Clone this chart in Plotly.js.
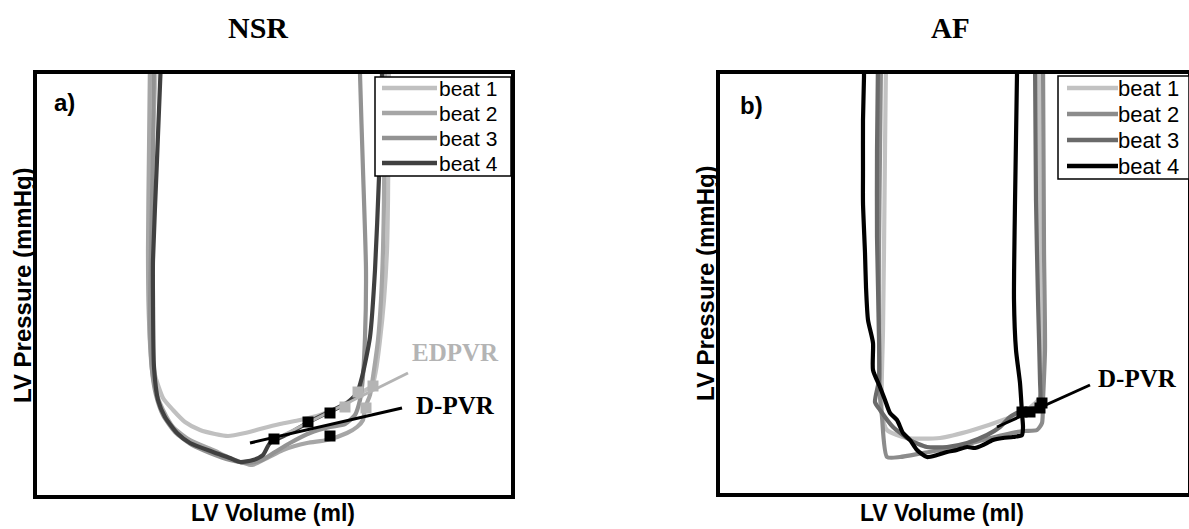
<!DOCTYPE html>
<html>
<head>
<meta charset="utf-8">
<script src="https://cdn.plot.ly/plotly-3.0.1.min.js"></script>
<style>html,body{margin:0;padding:0;background:#fff;}#chart{width:1189px;height:529px;}</style>
</head>
<body>
<div id="chart"></div>
<script>
// ---------- Panel a (NSR) : LV volume (ml) / LV pressure (mmHg) ----------
const beatNames = ["beat 1", "beat 2", "beat 3", "beat 4"];

const nsrBeat1Vol = [59.5,57.5,56,56,56.5,59,63,68,74,81.5,89,95.5,104,111.5,121.5,131.5,141.5,149,155.5,161.5,167.5,169.5,171.5,173.5,175,175.5,176];
const nsrBeat1Prs = [43.5,33.5,23.5,19.5,15.5,12,9.7,8.5,7.3,6.5,6.1,5.9,6.2,6.6,7.1,7.5,8.0,8.6,9.3,10.2,10.9,12.5,15.5,19.5,24.5,29.5,43.5];

const nsrBeat2Vol = [56.5,56,55.5,56,57.5,60,63,68,76.5,88,96.5,107.5,115,123,135,145,155,160,163,164,166.5,168.5,170.5,172,173,173.5,174];
const nsrBeat2Prs = [43.5,34.5,24.5,17.5,12.5,10,8.5,6.8,5.5,4.5,3.7,3.0,3.7,4.5,5.2,5.5,6.2,6.8,7.5,8.7,10,12.5,15.5,19.5,24.5,29.5,43.5];

const nsrBeat3Vol = [58.5,58,57,56.5,57.5,59.5,63,69,77.5,86.5,96.5,105.5,112.5,119,126.5,136.5,146.5,154,159,161.5,162.5,164,164.5,163,161.5,161.5];
const nsrBeat3Prs = [43.5,34.5,24.5,17.5,12.5,10,8,6.3,5,4.2,3.5,3.2,3.5,4.3,5.2,6.2,6.8,7.1,8,9.5,10.8,15.8,22.5,32.5,42.1,43.5];

const nsrBeat4Vol = [62,60,58,58,58.5,60.5,64,70,76.5,88,96.5,101.5,108,113,116.5,126.5,135,145,155,160,162.5,166.5,169,171,172.5,172.5];
const nsrBeat4Prs = [43.5,33.5,23.5,19.5,12.8,9.5,7.8,6.2,5.2,4.3,3.7,3.3,3.5,4.0,5.2,6.2,7.2,8.2,9.2,10.2,11.8,15.8,22.5,31.8,42.1,43.5];

const nsrDpvPtsVol = [118.5,135.5,146.5,146.5];
const nsrDpvPtsPrs = [5.6,7.3,8.2,5.9];
const nsrEdPtsVol = [160.5,168,154,164.5];
const nsrEdPtsPrs = [10.3,10.9,8.8,8.7];
const nsrEdpvrVol = [118,185.5];
const nsrEdpvrPrs = [5.5,12.2];
const nsrDpvrVol = [106.5,182.5];
const nsrDpvrPrs = [5.2,8.7];

// ---------- Panel b (AF) ----------
const afBeat1Vol = [83,82.5,82,81.5,81,83.5,93.5,110,126.5,141.5,153.5,160,160.5,160,159.5];
const afBeat1Prs = [43.3,34.3,24.3,16.3,8,6.3,5.5,5.5,6.3,7.3,8.3,9.6,14.3,24.3,43.3];

const afBeat2Vol = [80.5,80,79.5,79.5,80,81,83.5,90,101.5,118.5,131.5,141.5,151.5,158.5,161,161.5,162.5,162,161.5];
const afBeat2Prs = [43.3,34.3,24.3,16.3,9.6,7.6,3.6,3.6,4,4.6,5.3,5.8,6.2,6.3,7,9.3,14.3,24.3,43.3];

const afBeat3Vol = [79,78.5,78.5,79.5,79.5,77.5,80,86.5,95,103.5,113.5,123.5,133.5,140,145,151.5,157.5,160,160,159,158,157.5];
const afBeat3Prs = [43.3,34.3,25.6,15.6,11.3,9.1,8.3,6.6,5.3,4.6,4.6,5,5.8,6.6,7.6,8.3,8.5,8.9,11.3,19.3,29.3,43.3];

const afBeat4Vol = [72,72,71.5,71.5,71.5,72.5,73,74,76.5,76.5,80,82.5,85,88.5,91.5,95,98.5,103.5,108.5,113.5,118.5,123.5,127.5,131.5,136.5,141.5,146.5,151,151.5,151,150,148,147,147.5,148.5,148.5];
const afBeat4Prs = [43.3,41.6,37.3,32.3,29,24,20.6,17.3,15,12.3,10.6,9.3,8,7.3,6,5.3,4.3,3.6,3.8,4.1,4.3,4.6,4.5,4.8,5.3,5.5,5.6,5.8,6.6,8,11,14.3,19.3,29,41.9,43.3];

const afDpvPtsVol = [151,155,160,161];
const afDpvPtsPrs = [8.1,8.1,8.5,9];
const afDpvrVol = [138.5,185];
const afDpvrPrs = [6.6,10.8];

// ---------- styles ----------
const nsrColors = ["#c0c0c0", "#a6a6a6", "#939393", "#404040"];
const afColors = ["#c2c2c2", "#8c8c8c", "#6a6a6a", "#000000"];
const LW = 4.2;

function beat(x, y, name, color, xa, ya) {
  return {x: x, y: y, name: name, type: "scatter", mode: "lines", showlegend: false,
    line: {color: color, width: LW, shape: "spline", smoothing: 0.6},
    xaxis: xa, yaxis: ya, hoverinfo: "skip"};
}
function seg(x, y, color, w, xa, ya) {
  return {x: x, y: y, type: "scatter", mode: "lines", showlegend: false,
    line: {color: color, width: w}, xaxis: xa, yaxis: ya, hoverinfo: "skip"};
}
function pts(x, y, color, xa, ya) {
  return {x: x, y: y, type: "scatter", mode: "markers", showlegend: false,
    marker: {symbol: "square", size: 11, color: color}, xaxis: xa, yaxis: ya, hoverinfo: "skip"};
}

const nsrVols = [nsrBeat1Vol, nsrBeat2Vol, nsrBeat3Vol, nsrBeat4Vol];
const nsrPrss = [nsrBeat1Prs, nsrBeat2Prs, nsrBeat3Prs, nsrBeat4Prs];
const afVols = [afBeat1Vol, afBeat2Vol, afBeat3Vol, afBeat4Vol];
const afPrss = [afBeat1Prs, afBeat2Prs, afBeat3Prs, afBeat4Prs];

const data = [];
for (let i = 0; i < 4; i++) data.push(beat(nsrVols[i], nsrPrss[i], beatNames[i], nsrColors[i], "x", "y"));
data.push(seg(nsrEdpvrVol, nsrEdpvrPrs, "#b4b4b4", 3, "x", "y"));
data.push(seg(nsrDpvrVol, nsrDpvrPrs, "#000000", 3, "x", "y"));
data.push(pts(nsrEdPtsVol, nsrEdPtsPrs, "#b4b4b4", "x", "y"));
data.push(pts(nsrDpvPtsVol, nsrDpvPtsPrs, "#000000", "x", "y"));

for (let i = 0; i < 4; i++) data.push(beat(afVols[i], afPrss[i], beatNames[i], afColors[i], "x2", "y2"));
data.push(seg(afDpvrVol, afDpvrPrs, "#000000", 3, "x2", "y2"));
data.push(pts(afDpvPtsVol, afDpvPtsPrs, "#000000", "x2", "y2"));

const W = 1189, H = 529;
const axBase = {showline: true, mirror: true, linewidth: 3.8, linecolor: "#000",
  showgrid: false, zeroline: false, showticklabels: false, ticks: "", fixedrange: true};

const ann = (text, x, y, size, family, color, angle, anchor) => ({
  text: text, x: x / W, y: 1 - y / H, xref: "paper", yref: "paper",
  showarrow: false, xanchor: anchor || "center", yanchor: "middle", textangle: angle || 0,
  font: {size: size, family: family, color: color || "#000"}});
const SANS = "Liberation Sans, Arial, sans-serif";
const SERIF = "Liberation Serif, Times New Roman, serif";

const annotations = [
  ann("<b>NSR</b>", 258, 28, 30, SERIF),
  ann("<b>AF</b>", 950, 28, 29, SERIF),
  ann("<b>a)</b>", 64, 103, 24, SANS),
  ann("<b>b)</b>", 751, 105, 24, SANS),
  ann("<b>LV Volume (ml)</b>", 273, 513, 23, SANS),
  ann("<b>LV Volume (ml)</b>", 942, 513, 23, SANS),
  ann("<b>LV Pressure (mmHg)</b>", 22, 285, 24, SANS, "#000", -90),
  ann("<b>LV Pressure (mmHg)</b>", 705, 283, 24, SANS, "#000", -90),
  ann("<b>EDPVR</b>", 455, 352, 25, SERIF, "#b4b4b4"),
  ann("<b>D-PVR</b>", 455, 405, 25, SERIF),
  ann("<b>D-PVR</b>", 1137, 378, 25, SERIF)
];

// ---------- hand-placed legends (box, line samples, labels) ----------
const px = v => v / W, py = v => 1 - v / H;
const shapes = [];
function legendBox(x0, y0, x1, y1, lx0, lx1, tx, rows, colors, fsize) {
  shapes.push({type: "rect", xref: "paper", yref: "paper", x0: px(x0), x1: px(x1), y0: py(y0), y1: py(y1),
    fillcolor: "#fff", line: {color: "#000", width: 1.5}, layer: "above"});
  for (let i = 0; i < 4; i++) {
    shapes.push({type: "line", xref: "paper", yref: "paper", x0: px(lx0), x1: px(lx1), y0: py(rows[i]), y1: py(rows[i]),
      line: {color: colors[i], width: 4.5}, layer: "above"});
    annotations.push(ann(beatNames[i], tx, rows[i], fsize, SANS, "#000", 0, "left"));
  }
}
legendBox(375, 77, 511, 176, 382, 437, 437, [88, 113, 138, 163], nsrColors, 21);
legendBox(1058, 76, 1189, 179, 1067, 1118, 1116, [88, 114, 140, 166], afColors, 22);

const layout = {
  width: W, height: H, margin: {l: 0, r: 0, t: 0, b: 0},
  paper_bgcolor: "#fff", plot_bgcolor: "#fff", showlegend: false,
  xaxis: Object.assign({}, axBase, {domain: [37 / W, 511 / W], range: [0, 237]}),
  yaxis: Object.assign({}, axBase, {domain: [1 - 495 / H, 1 - 74 / H], range: [0, 42.1]}),
  xaxis2: Object.assign({}, axBase, {domain: [720 / W, 1188 / W], range: [0, 234], anchor: "y2"}),
  yaxis2: Object.assign({}, axBase, {domain: [1 - 493 / H, 1 - 74 / H], range: [0, 41.9], anchor: "x2"}),
  shapes: shapes,
  annotations: annotations
};

Plotly.newPlot("chart", data, layout, {staticPlot: true, displayModeBar: false});
</script>
</body>
</html>
